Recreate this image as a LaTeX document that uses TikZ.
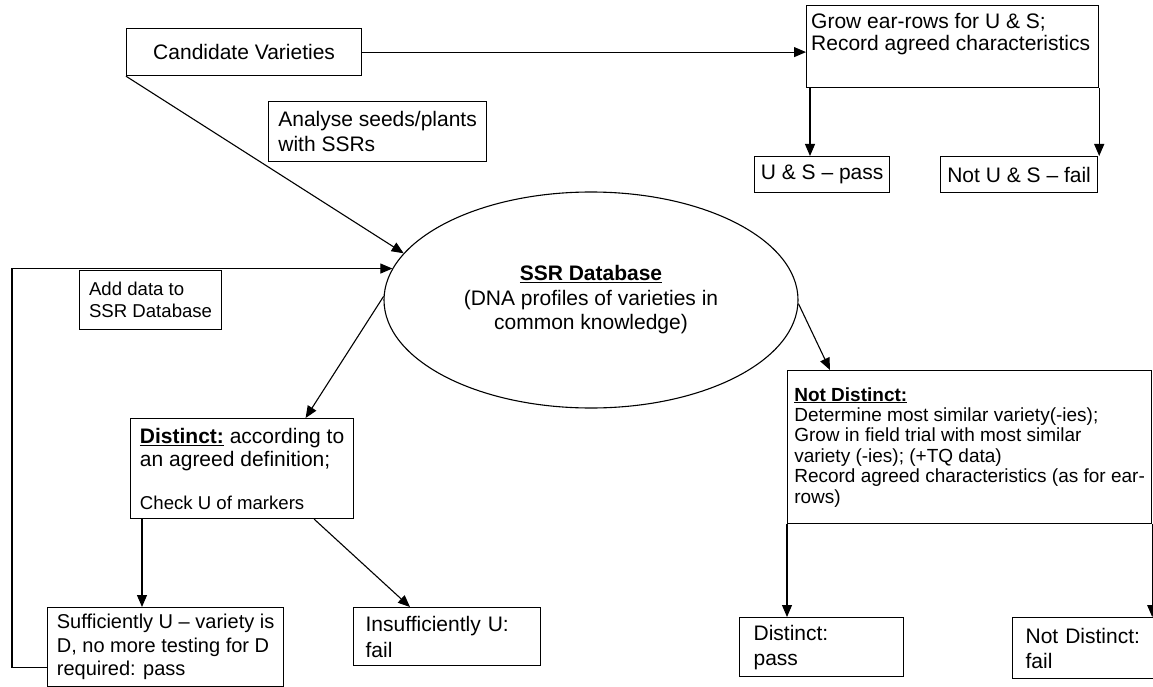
\documentclass[tikz,border=0pt]{standalone}
\usepackage{fontspec}
\setmainfont{Liberation Sans}
\usetikzlibrary{shapes.geometric, arrows.meta}

\newcommand{\fontL}{\fontsize{21pt}{24pt}\selectfont}
\newcommand{\fontM}{\fontsize{19pt}{20.4pt}\selectfont}
\newcommand{\fontS}{\fontsize{18.6pt}{22pt}\selectfont}

\tikzset{
	box/.style={draw, line width=1.2pt, anchor=north west, align=left, inner ysep=0pt, font=\fontL},
	txt/.style={align=left, inner sep=0pt, font=\fontsize{21pt}{22pt}\selectfont},
	arr/.style={-{Triangle[length=12pt,width=10pt]}, line width=1.1pt},
}

\begin{document}
\begin{tikzpicture}[x=1pt, y=-1pt]
		\useasboundingbox (0,0) rectangle (1153,687);

		% Top row
		\node[box, align=center, minimum width=235pt, minimum height=47pt] (cand) at (126,28) {Candidate Varieties};
		\node[box, minimum width=218pt, minimum height=60pt, font=\fontsize{21pt}{25pt}\selectfont] (analyse) at (268,101) {Analyse seeds/plants\\with SSRs};
		\node[box, minimum width=292pt, minimum height=82pt] (grow) at (806,5) {};
		\node[txt, anchor=north west] (growtext) at ([shift={(5,8)}]grow.north west) {Grow ear-rows for U \& S;\\Record agreed characteristics};
		\node[box, align=center, minimum width=135pt, minimum height=36pt] (uspass) at (754,156) {U \& S -- pass};
		\node[box, align=center, minimum width=157pt, minimum height=36pt] (usfail) at (940,156) {Not U \& S -- fail};

		% The database
		\node[draw, ellipse, line width=1.1pt, minimum width=414pt, minimum height=216pt, inner sep=0pt, align=center, font=\fontsize{21pt}{24.5pt}\selectfont] (db) at (591,300) {\underline{\textbf{SSR Database}}\\(DNA profiles of varieties in\\common knowledge)};
		\node[box, minimum width=142pt, minimum height=59pt, font=\fontS] (addd) at (79,270) {Add data to\\SSR Database};

		% Distinct branch
		\node[box, minimum width=223pt, minimum height=100pt, font=\fontsize{21pt}{23pt}\selectfont] (dist) at (130,418) {\underline{\textbf{Distinct:}} according to\\an agreed definition;\\[20pt]{\fontS Check U of markers}};
		\node[box, minimum width=236pt, minimum height=79pt, font=\fontsize{20pt}{23.5pt}\selectfont] (suff) at (47,607) {Sufficiently U -- variety is\\D, no more testing for D\\required: pass};
		\node[box, text width=163pt, inner xsep=12pt, minimum height=58pt, font=\fontsize{21pt}{26pt}\selectfont] (insuff) at (353,607) {Insufficiently U:\\fail};

		% Not distinct branch
		\node[box, minimum width=364pt, minimum height=153pt, font=\fontM] (notd) at (787,370) {\underline{\textbf{Not Distinct:}}\\Determine most similar variety(-ies);\\Grow in field trial with most similar\\variety (-ies); (+TQ data)\\Record agreed characteristics (as for ear-\\rows)};
		\node[box, text width=136pt, inner xsep=14pt, minimum height=59pt, font=\fontsize{21pt}{25pt}\selectfont] (dpass) at (739,617) {Distinct:\\pass};
		\node[box, text width=134pt, inner xsep=13pt, minimum height=61pt, font=\fontsize{21pt}{25pt}\selectfont] (dfail) at (1012,617) {Not Distinct:\\fail};

		% Connectors
		\draw[arr] (cand.east) -- (cand.east -| grow.west);
		\draw[arr] (cand.south west) -- (db.166);
		\draw[arr] ([xshift=4]grow.south west) -- ([xshift=4]grow.south west |- uspass.north);
		\draw[arr] (grow.south east) -- (grow.south east |- usfail.north);
		\draw[arr] ([yshift=-20]suff.west) -- ++(-35,0) |- (db.171);
		\draw[arr] (db.179) -- ([xshift=63.5]dist.north);
		\draw[arr] ([xshift=12]dist.south west) -- ([xshift=12]dist.south west |- suff.north);
		\draw[arr] ([xshift=-40]dist.south east) -- ([xshift=57]insuff.north west);
		\draw[arr] (db.359) -- ([xshift=43]notd.north west);
		\draw[arr] (notd.south west) -- (notd.south west |- dpass.north);
		\draw[arr] (notd.south east) -- (notd.south east |- dfail.north);

	\end{tikzpicture}
\end{document}
